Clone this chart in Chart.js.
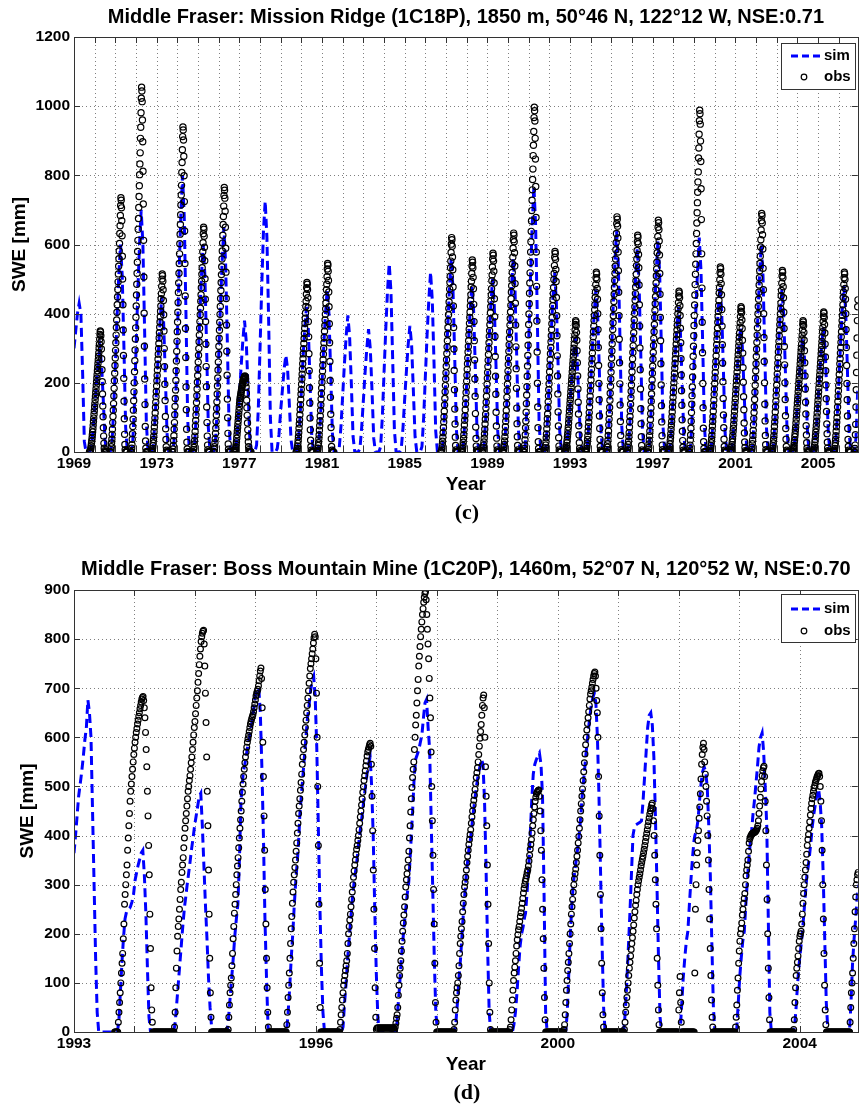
<!DOCTYPE html>
<html>
<head>
<meta charset="utf-8">
<script src="https://cdn.jsdelivr.net/npm/chart.js@4.4.0/dist/chart.umd.min.js"></script>
<style>
  body { margin: 0; background: #fff; width: 863px; height: 1107px; position: relative; overflow: hidden; }
  canvas { position: absolute; left: 0; }
  .tag { position: absolute; left: 0; width: 934px; text-align: center; font: bold 22px "Liberation Serif", "Times New Roman", serif; line-height: 22px; }
</style>
</head>
<body>
<canvas id="mission" width="863" height="500" style="top:0"></canvas>
<div class="tag" style="top:501px">(c)</div>
<canvas id="boss" width="863" height="530" style="top:550px"></canvas>
<div class="tag" style="top:1081px">(d)</div>

<script>
// ---- panel (c): Mission Ridge 1C18P ----
// simulated SWE, one row per calendar year from 1969, values on the 1st of each month (mm)
const missionSim = [
  [300,350,400,430,400,230,30,0,0,0,10,60],
  [125,195,255,300,255,150,35,0,0,0,20,120],
  [250,390,510,600,510,300,70,0,0,0,20,120],
  [295,455,595,700,600,350,85,0,0,0,15,90],
  [190,290,380,450,380,225,55,0,0,0,25,135],
  [335,520,680,800,680,400,95,0,0,0,20,110],
  [250,390,510,600,510,300,70,0,0,0,20,110],
  [275,420,550,650,550,325,80,0,0,0,10,65],
  [160,245,320,380,320,190,45,0,0,0,20,125],
  [300,480,640,725,620,380,100,0,0,0,10,50],
  [120,180,240,280,240,140,35,0,0,0,15,80],
  [175,275,360,420,360,210,50,0,0,0,15,90],
  [200,305,400,470,400,235,55,0,0,0,12,75],
  [165,255,335,395,335,200,45,0,0,0,10,70],
  [150,230,300,355,300,180,40,0,0,0,15,100],
  [230,355,465,545,465,270,65,0,0,0,10,70],
  [155,235,310,365,310,180,45,0,0,0,15,100],
  [220,340,440,520,440,260,60,0,0,0,15,100],
  [235,365,475,560,475,280,65,0,0,0,15,95],
  [200,310,410,480,410,240,55,0,0,0,15,95],
  [210,325,425,500,425,250,60,0,0,0,15,105],
  [235,365,475,560,475,280,65,0,0,0,20,140],
  [325,500,655,770,655,385,90,0,0,0,15,100],
  [220,340,440,520,440,260,60,0,0,0,10,65],
  [140,215,280,330,280,165,40,0,0,0,15,90],
  [200,305,400,470,400,235,55,0,0,0,20,120],
  [270,415,545,640,545,320,75,0,0,0,18,110],
  [250,385,500,590,500,295,70,0,0,0,18,115],
  [255,395,520,610,520,305,70,0,0,0,12,80],
  [175,275,355,420,355,210,50,0,0,0,18,115],
  [260,405,525,620,525,310,75,0,0,0,15,90],
  [200,310,410,480,410,240,55,0,0,0,10,70],
  [150,235,305,360,305,180,45,0,0,0,18,110],
  [250,390,510,600,510,300,70,0,0,0,15,90],
  [200,305,400,470,400,235,55,0,0,0,10,65],
  [140,215,280,330,280,165,40,0,0,0,10,70],
  [150,235,305,360,305,180,45,0,0,0,15,90],
  [200,310,410,480,410,240,55,0,0,0,40,180]
];
// observed SWE, one row per snow season (water year), every 5 days from 1 October
const missionObsYears = [1970,1971,1972,1973,1974,1975,1976,1977,1980,1981,1987,1988,1989,1990,1991,1992,1993,1994,1995,1996,1997,1998,1999,2000,2001,2002,2003,2004,2005,2006,2007];
const missionObs = [
  [0,0,0,4,7,12,18,25,32,40,49,58,67,77,88,98,109,119,130,140,151,161,172,182,193,203,214,224,235,245,256,266,277,287,301,312,326,340,350,347,336,319,298,270,238,203,168,133,102,70,46,25,11,4,0,0,0,0,0,0],
  [0,0,0,7,15,26,37,51,66,85,103,121,140,162,184,206,228,250,272,294,316,338,360,382,404,426,448,470,492,515,537,559,581,603,632,654,684,713,735,728,706,669,625,566,500,426,353,279,213,147,96,51,22,7,0,0,0,0,0,0],
  [0,0,0,11,21,37,53,74,95,121,148,174,200,232,264,295,327,359,390,422,454,485,517,549,580,612,644,675,707,739,770,802,833,865,907,939,981,1023,1055,1044,1013,960,897,812,717,612,506,401,306,211,137,74,32,11,0,0,0,0,0,0],
  [0,0,0,5,10,18,26,36,46,59,72,85,98,113,129,144,160,175,191,206,221,237,252,268,283,299,314,330,345,361,376,391,407,422,443,458,479,500,515,510,494,469,438,397,350,299,247,196,149,103,67,36,15,5,0,0,0,0,0,0],
  [0,0,0,9,19,33,47,66,85,108,132,155,179,207,235,263,291,320,348,376,404,432,461,489,517,545,573,602,630,658,686,714,743,771,808,837,874,912,940,931,902,855,799,724,639,545,451,357,273,188,122,66,28,9,0,0,0,0,0,0],
  [0,0,0,7,13,23,33,46,59,75,91,107,124,143,163,182,202,221,241,260,280,299,319,338,358,377,397,416,436,455,475,494,514,533,559,579,605,631,650,644,624,592,553,501,442,377,312,247,189,130,85,46,20,7,0,0,0,0,0,0],
  [0,0,0,8,15,27,38,54,69,88,107,126,145,168,191,214,237,260,283,306,329,352,375,398,421,444,467,490,513,536,558,581,604,627,658,681,711,742,765,757,734,696,650,589,520,444,367,291,222,153,99,54,23,8,0,0,0,0,0,0],
  [0,0,0,3,6,10,15,22,30,40,50,60,70,80,90,100,110,120,130,140,148,155,160,165,170,175,180,185,190,195,200,205,208,210,212,214,216,218,220,218,212,200,188,170,150,128,106,84,64,44,29,15,7,2,0,0,0,0,0,0],
  [0,0,0,5,10,17,25,34,44,56,69,81,93,108,123,137,152,167,181,196,211,225,240,255,270,284,299,314,328,343,358,372,387,402,421,436,456,475,490,485,470,446,417,377,333,284,235,186,142,98,64,34,15,5,0,0,0,0,0,0],
  [0,0,0,5,11,19,27,38,49,63,76,90,104,120,136,153,169,185,202,218,234,251,267,283,300,316,332,349,365,382,398,414,431,447,469,485,507,529,545,540,523,496,463,420,371,316,262,207,158,109,71,38,16,5,0,0,0,0,0,0],
  [0,0,0,6,12,22,31,43,56,71,87,102,118,136,155,174,192,211,229,248,267,285,304,322,341,360,378,397,415,434,453,471,490,508,533,552,577,601,620,614,595,564,527,477,422,360,298,236,180,124,81,43,19,6,0,0,0,0,0,0],
  [0,0,0,6,11,19,28,39,50,64,78,92,105,122,139,155,172,189,205,222,239,255,272,289,305,322,339,355,372,389,405,422,438,455,477,494,516,538,555,549,533,505,472,427,377,322,266,211,161,111,72,39,17,6,0,0,0,0,0,0],
  [0,0,0,6,12,20,29,40,52,66,81,95,109,127,144,161,178,196,213,230,247,265,282,299,316,334,351,368,385,403,420,437,454,472,495,512,535,558,575,569,552,523,489,443,391,334,276,219,167,115,75,40,17,6,0,0,0,0,0,0],
  [0,0,0,6,13,22,32,44,57,73,89,104,120,139,158,177,196,215,234,253,272,291,310,329,348,367,386,405,424,443,462,481,500,519,544,563,589,614,633,627,608,576,538,487,430,367,304,241,184,127,82,44,19,6,0,0,0,0,0,0],
  [0,0,0,10,20,35,50,70,90,115,140,165,189,219,249,279,309,339,369,399,429,459,489,518,548,578,608,638,668,698,728,758,788,818,857,887,927,967,997,987,957,907,847,768,678,578,479,379,289,199,130,70,30,10,0,0,0,0,0,0],
  [0,0,0,6,12,20,29,41,52,67,81,96,110,128,145,162,180,197,215,232,249,267,284,302,319,336,354,371,389,406,423,441,458,476,499,516,539,563,580,574,557,528,493,447,394,336,278,220,168,116,75,41,17,6,0,0,0,0,0,0],
  [0,0,0,4,8,13,19,27,34,44,53,63,72,84,95,106,118,129,141,152,163,175,186,198,209,220,232,243,255,266,277,289,300,312,327,338,353,369,380,376,365,346,323,293,258,220,182,144,110,76,49,27,11,4,0,0,0,0,0,0],
  [0,0,0,5,10,18,26,36,47,60,73,86,99,114,130,146,161,177,192,208,224,239,255,270,286,302,317,333,348,364,380,395,411,426,447,463,484,504,520,515,499,473,442,400,354,302,250,198,151,104,68,36,16,5,0,0,0,0,0,0],
  [0,0,0,7,14,24,34,48,61,78,95,112,129,150,170,190,211,231,252,272,292,313,333,354,374,394,415,435,456,476,496,517,537,558,585,605,632,660,680,673,653,619,578,524,462,394,326,258,197,136,88,48,20,7,0,0,0,0,0,0],
  [0,0,0,6,13,22,31,44,56,72,88,103,119,138,157,176,194,213,232,251,270,288,307,326,345,364,382,401,420,439,458,477,495,514,539,558,583,608,627,621,602,571,533,483,426,364,301,238,182,125,82,44,19,6,0,0,0,0,0,0],
  [0,0,0,7,13,23,34,47,60,77,94,111,127,147,168,188,208,228,248,268,288,308,328,348,369,389,409,429,449,469,489,509,529,549,576,596,623,650,670,663,643,610,570,516,456,389,322,255,194,134,87,47,20,7,0,0,0,0,0,0],
  [0,0,0,5,9,16,23,33,42,53,65,77,88,102,116,130,144,158,172,186,200,214,228,242,256,270,284,298,312,326,339,353,367,381,400,414,432,451,465,460,446,423,395,358,316,270,223,177,135,93,60,33,14,5,0,0,0,0,0,0],
  [0,0,0,10,20,35,49,69,89,114,138,163,188,217,247,277,306,336,366,395,425,454,484,514,543,573,603,632,662,692,721,751,781,810,850,879,919,958,988,978,948,899,840,761,672,573,474,375,287,198,128,69,30,10,0,0,0,0,0,0],
  [0,0,0,5,11,19,27,37,48,62,75,88,102,118,134,150,166,182,198,214,230,246,262,278,294,310,326,342,358,375,391,407,423,439,460,476,498,519,535,530,514,487,455,412,364,310,257,203,155,107,70,37,16,5,0,0,0,0,0,0],
  [0,0,0,4,8,15,21,29,38,48,59,69,80,92,105,118,130,143,155,168,181,193,206,218,231,244,256,269,281,294,307,319,332,344,361,374,391,407,420,416,403,382,357,323,286,244,202,160,122,84,55,29,13,4,0,0,0,0,0,0],
  [0,0,0,7,14,24,35,48,62,79,97,114,131,152,173,193,214,235,255,276,297,317,338,359,380,400,421,442,462,483,504,524,545,566,593,614,642,669,690,683,662,628,587,531,469,400,331,262,200,138,90,48,21,7,0,0,0,0,0,0],
  [0,0,0,5,11,18,26,37,47,60,74,87,100,116,131,147,163,179,194,210,226,242,257,273,289,305,320,336,352,368,383,399,415,431,452,467,488,509,525,520,504,478,446,404,357,305,252,200,152,105,68,37,16,5,0,0,0,0,0,0],
  [0,0,0,4,8,13,19,27,34,44,53,63,72,84,95,106,118,129,141,152,163,175,186,198,209,220,232,243,255,266,277,289,300,312,327,338,353,369,380,376,365,346,323,293,258,220,182,144,110,76,49,27,11,4,0,0,0,0,0,0],
  [0,0,0,4,8,14,20,28,36,47,57,67,77,89,101,113,126,138,150,162,174,186,198,211,223,235,247,259,271,284,296,308,320,332,348,360,377,393,405,401,389,369,344,312,275,235,194,154,117,81,53,28,12,4,0,0,0,0,0,0],
  [0,0,0,5,10,18,26,36,47,60,73,86,99,114,130,146,161,177,192,208,224,239,255,270,286,302,317,333,348,364,380,395,411,426,447,463,484,504,520,515,499,473,442,400,354,302,250,198,151,104,68,36,16,5,0,0,0,0,0,0],
  [0,0,10,20,50,80,130,180,230,280,330,380,420,440,450]
];
const missionLabelYears = [1969,1973,1977,1981,1985,1989,1993,1997,2001,2005];

// ---- panel (d): Boss Mountain Mine 1C20P ----
// simulated SWE, one row per calendar year from 1993, every 10 days from 1 January (mm)
const bossSim = [
  [364,400,440,480,505,530,560,594,620,676,650,600,450,300,150,40,0,0,0,0,0,0,0,0,0,0,0,0,0,20,80,140,190,230,245,250,252],
  [255,265,280,309,325,340,352,365,370,320,240,130,30,0,0,0,0,0,0,0,0,0,0,0,0,0,0,0,0,20,60,100,140,180,220,255,280],
  [295,320,345,372,395,420,440,460,480,486,420,340,260,190,110,50,10,0,0,0,0,0,0,0,0,0,0,30,70,110,150,195,230,260,350,470,510],
  [530,545,565,585,601,620,640,665,690,698,700,650,540,400,230,110,10,0,0,0,0,0,0,0,0,0,0,0,0,40,90,150,200,260,310,350,400],
  [440,480,520,560,600,640,665,695,715,724,680,580,420,260,130,40,0,0,0,0,0,0,0,0,0,0,0,0,10,60,100,150,190,230,270,300,325],
  [335,365,395,420,445,475,500,525,545,560,500,400,250,120,30,0,0,0,0,0,0,0,0,0,0,0,0,50,90,140,180,215,248,280,305,360,420],
  [450,520,556,565,575,590,605,640,670,677,620,575,430,290,150,39,5,0,0,0,0,0,0,0,0,0,0,0,20,60,110,150,200,250,290,330,360],
  [375,395,425,455,480,505,525,540,555,545,470,330,170,40,0,0,0,0,0,0,0,0,0,0,0,0,0,0,0,15,40,80,130,175,200,215,235],
  [242,285,330,400,470,525,545,555,562,568,545,480,280,40,0,0,0,0,0,0,0,0,0,0,0,0,0,40,120,200,260,305,330,355,380,410,450],
  [475,510,545,580,610,640,665,680,690,670,600,480,330,180,50,0,0,0,0,0,0,0,0,0,0,0,0,0,40,100,170,240,320,400,418,422,424],
  [425,427,430,470,520,570,620,645,650,625,560,440,300,150,30,0,0,0,0,0,0,0,0,0,0,0,0,0,55,110,150,185,205,260,310,355,390],
  [400,410,430,470,505,530,540,530,500,420,320,180,50,0,0,0,0,0,0,0,0,0,0,0,0,0,0,0,55,110,150,185,205,260,310,355,390],
  [400,440,470,505,540,580,600,609,570,500,420,230,40,0,0,0,0,0,0,0,0,0,0,0,0,0,0,0,10,50,100,140,170,200,240,280,320],
  [330,355,385,420,445,465,485,495,470,420,320,190,60,5,0,0,0,0,0,0,0,0,0,0,0,0,0,0,60,140,190,230,276,300]
];
// observed SWE, one row per season, every 4 days from the listed start date (decimal year)
const bossObsStart = [1993.72,1994.77,1995.71,1996.76,1997.70,1998.67,1999.70,2000.70,2001.67,2002.73,2003.78,2004.71,2005.74,2006.74];
const bossObs = [
  [0,0,0,0,0,0,20,40,60,80,100,120,140,160,190,220,260,280,300,320,340,370,395,420,445,470,
   490,505,520,535,550,565,578,590,600,610,618,627,635,643,650,658,665,672,678,681,
   683,675,660,640,610,575,540,490,440,380,320,240,170,90,45,20,
   0,0,0,0,0,0,0,0,0,0, 0,0,0,0,0,0,0,0,0,0, 0,0,0,0,0,0,0,0,0,0, 0,0,0,0],
  [0,10,40,90,130,165,195,215,230,250,270,290,305,325,340,355,375,395,415,430,
   445,460,475,490,500,512,522,535,548,560,575,590,605,620,632,648,665,680,695,712,
   730,748,765,780,795,805,812,816,818,790,745,690,630,560,490,420,330,240,150,80,30,0,
   0,0,0,0,0,0,0,0,0,0, 0,0,0,0,0,0,0,0,0,0, 0,0,0,0],
  [0,0,5,30,55,80,95,110,135,160,190,215,242,260,280,300,320,338,355,375,
   395,415,432,450,470,488,505,520,535,548,560,570,580,590,597,604,612,620,627,633,
   638,642,646,652,660,668,676,684,690,694,698,705,715,725,735,741,720,660,590,520,
   440,370,290,220,150,90,40,10,0,
   0,0,0,0,0,0,0,0,0,0, 0,0,0,0,0,0,0,0,0,0, 0,0,0,0,0,0,0],
  [0,15,40,70,95,120,150,180,210,235,262,285,305,320,335,350,368,385,405,425,
   445,460,475,492,508,525,545,560,575,590,605,620,635,650,665,680,695,710,725,740,
   750,760,770,780,792,803,810,805,760,690,600,500,380,260,140,50,0,
   0,0,0,0,0,0,0,0,0,0, 0,0,0,0,0,0,0,0,0,0, 0,0,0,0,0,0,0,0,0],
  [0,5,20,35,50,65,80,95,105,115,125,135,145,160,180,200,215,228,240,255,
   270,285,300,315,328,340,350,362,372,380,390,400,412,425,438,450,462,475,488,500,
   512,522,532,542,552,562,570,575,580,585,588,582,545,480,410,330,250,170,90,30,5,
   8,8,8,8,8,8,8,8,8,8, 8,8,8,8,8,8,8,8,8,8, 8,8,8,8,8,8,8,8],
  [0,5,10,18,28,35,50,75,95,115,130,145,165,185,205,222,238,255,275,295,
   310,322,335,350,368,395,420,448,475,498,518,535,550,575,600,625,645,670,695,718,
   745,765,785,805,820,835,850,862,875,885,893,897,880,850,820,790,760,720,680,640,
   570,500,430,360,290,220,140,60,20,0,
   0,0,0,0,0,0,0,0,0,0, 0,0,0,0,0,0,0,0,0,0, 0,0,0,0],
  [0,0,0,5,20,45,65,80,90,100,115,135,160,180,195,210,225,245,262,280,
   295,305,315,330,345,358,370,382,392,402,412,425,438,450,462,472,482,494,506,518,
   528,538,550,565,582,598,612,626,645,665,680,686,660,600,540,480,420,340,260,180,
   100,40,5,0,
   0,0,0,0,0,0,0,0,0,0, 0,0,0,0,0,0,0,0,0,0, 0,0,0,0,0,0,0],
  [0,0,5,10,25,45,65,85,105,120,132,145,160,175,188,198,208,215,225,235,
   243,252,262,272,283,292,300,307,312,318,325,330,338,348,360,372,382,392,405,420,
   432,445,458,470,478,485,488,490,492,493,480,450,410,370,310,250,190,130,70,25,0,
   0,0,0,0,0,0,0,0,0,0, 0,0,0,0,0,0,0,0,0,0, 0,0,0,0,0,0,0,0],
  [0,5,15,35,60,85,105,125,142,160,180,200,220,240,255,270,285,300,312,322,
   332,345,358,370,385,398,415,432,450,465,480,495,512,530,548,566,585,600,615,628,
   640,652,665,678,688,695,702,710,718,725,730,733,725,700,675,650,600,520,440,360,
   280,210,140,80,35,10,0,
   0,0,0,0,0,0,0,0,0,0, 0,0,0,0,0,0,0,0,0,0, 0,0,0,0,0,0,0,0,0,0],
  [0,0,5,20,40,55,70,85,100,115,130,142,155,168,180,192,205,218,232,245,
   258,268,280,290,300,308,315,322,330,338,345,352,358,365,372,380,388,396,404,412,
   420,428,436,444,450,456,462,466,455,430,400,360,310,260,210,150,95,45,15,0,
   0,0,0,0,0,0,0,0,0,0, 0,0,0,0,0,0,0,0,0,0, 0,0,0,0,0,0,0,0,0,0,
   45,80,113,60,20,0],
  [0,0,0,0,0,0,0,0,0,0, 0,0,0,0,0,0,0,0,0,0,
   120,250,300,340,365,390,410,435,458,485,515,545,565,580,588,575,550,525,500,470,
   440,400,350,290,230,170,115,65,30,10,0,
   0,0,0,0,0,0,0,0,0,0, 0,0,0,0,0,0,0,0,0,0, 0,0,0,0,0,0,0,0,0,0, 0,0,0,0],
  [0,10,30,55,85,110,140,165,185,200,210,222,238,250,262,272,282,300,318,330,
   340,350,368,385,393,397,400,402,404,405,405,406,407,408,410,412,415,420,430,445,
   460,478,495,510,522,532,538,541,520,470,410,340,270,200,130,70,25,0,
   0,0,0,0,0,0,0,0,0,0, 0,0,0,0,0,0,0,0,0,0, 0,0,0,0,0,0,0,0,0,0, 0,0,0,0,0,0],
  [0,5,25,60,90,115,130,142,155,170,185,195,200,205,220,240,262,282,300,315,
   330,345,362,380,392,402,415,428,442,455,466,475,482,490,497,502,508,512,516,520,
   523,526,527,520,500,470,430,370,300,230,160,95,45,15,0,
   0,0,0,0,0,0,0,0,0,0, 0,0,0,0,0,0,0,0,0,0, 0,0,0,0,0,0,0,0,0,0, 0,0,0,0,0,0,0],
  [0,20,50,80,100,120,150,180,210,245,275,300,310,320,325]
];
// the original axis carries a tick every ~391 days, only some of them labelled
const bossTickLabels = ['1993','','','','1996','','','','2000','','','','2004'];
const bossTickStep = 1.0714;

const SANS = '"Liberation Sans", Arial, Helvetica, sans-serif';
const DAY = 1 / 365.25;

function rowsToPoints(starts, rows, step) {
  const pts = [];
  rows.forEach((row, k) => row.forEach((v, i) => pts.push({ x: starts[k] + i * step, y: v })));
  return pts;
}

// dotted grid under the data, box and inward tick marks over it (MATLAB look)
const matlabAxes = {
  id: 'matlabAxes',
  beforeDatasetsDraw(chart) {
    const { ctx, chartArea: a, scales: { x, y } } = chart;
    ctx.save();
    ctx.strokeStyle = 'rgba(0,0,0,0.5)';
    ctx.lineWidth = 1;
    ctx.setLineDash([1, 3]);
    ctx.beginPath();
    x.ticks.forEach(t => {
      const px = Math.round(x.getPixelForValue(t.value)) + 0.5;
      if (px > a.left + 2 && px < a.right - 2) { ctx.moveTo(px, a.top); ctx.lineTo(px, a.bottom); }
    });
    y.ticks.forEach(t => {
      const py = Math.round(y.getPixelForValue(t.value)) + 0.5;
      if (py > a.top + 2 && py < a.bottom - 2) { ctx.moveTo(a.left, py); ctx.lineTo(a.right, py); }
    });
    ctx.stroke();
    ctx.restore();
  },
  afterDatasetsDraw(chart) {
    const { ctx, chartArea: a, scales: { x, y } } = chart;
    ctx.save();
    ctx.strokeStyle = '#333';
    ctx.lineWidth = 1;
    ctx.beginPath();
    x.ticks.forEach(t => {
      const px = Math.round(x.getPixelForValue(t.value)) + 0.5;
      ctx.moveTo(px, a.bottom); ctx.lineTo(px, a.bottom - 6);
      ctx.moveTo(px, a.top); ctx.lineTo(px, a.top + 6);
    });
    y.ticks.forEach(t => {
      const py = Math.round(y.getPixelForValue(t.value)) + 0.5;
      ctx.moveTo(a.left, py); ctx.lineTo(a.left + 6, py);
      ctx.moveTo(a.right, py); ctx.lineTo(a.right - 6, py);
    });
    ctx.stroke();
    ctx.strokeRect(Math.round(a.left) + 0.5, Math.round(a.top) + 0.5, Math.round(a.right - a.left), Math.round(a.bottom - a.top));
    ctx.restore();
  }
};

const boxLegend = {
  id: 'boxLegend',
  afterDraw(chart, args, opts) {
    const { ctx, chartArea: a } = chart;
    const x0 = Math.round(a.right) - 77, y0 = Math.round(a.top) + opts.dy;
    ctx.save();
    ctx.fillStyle = '#fff';
    ctx.fillRect(x0, y0, 74, opts.h);
    ctx.strokeStyle = '#333';
    ctx.lineWidth = 1;
    ctx.strokeRect(x0 + 0.5, y0 + 0.5, 74, opts.h);
    ctx.strokeStyle = '#0000ff';
    ctx.lineWidth = 3;
    ctx.setLineDash([7, 4]);
    ctx.beginPath();
    ctx.moveTo(x0 + 10, y0 + opts.simY);
    ctx.lineTo(x0 + 39, y0 + opts.simY);
    ctx.stroke();
    ctx.setLineDash([]);
    ctx.strokeStyle = '#000';
    ctx.lineWidth = 1.2;
    ctx.beginPath();
    ctx.arc(x0 + 23, y0 + opts.obsY, 2.8, 0, Math.PI * 2);
    ctx.stroke();
    ctx.fillStyle = '#000';
    ctx.font = 'bold 15px ' + SANS;
    ctx.textAlign = 'left';
    ctx.textBaseline = 'middle';
    ctx.fillText('sim', x0 + 43, y0 + opts.simY);
    ctx.fillText('obs', x0 + 43, y0 + opts.obsY);
    ctx.restore();
  }
};

function buildPanel(id, p) {
  const tickFont = { family: SANS, size: 15.5, weight: 'bold' };
  const labelFont = { family: SANS, size: 19, weight: 'bold' };
  return new Chart(document.getElementById(id), {
    type: 'line',
    data: {
      datasets: [
        {
          label: 'obs', data: p.obs, showLine: false, order: 0,
          pointStyle: 'circle', pointRadius: p.obsRadius, pointBorderWidth: 1.2,
          pointBorderColor: '#000', pointBackgroundColor: 'rgba(0,0,0,0)'
        },
        {
          label: 'sim', data: p.sim, order: 1, fill: false, tension: 0,
          borderColor: '#0000ff', borderWidth: 3, borderDash: [9, 5], pointRadius: 0
        }
      ]
    },
    options: {
      responsive: false,
      animation: false,
      events: [],
      layout: { padding: { left: 0, right: 3, top: 0, bottom: 0 } },
      plugins: {
        legend: { display: false },
        tooltip: { enabled: false },
        title: {
          display: true, text: p.title, fullSize: false, color: '#000',
          font: { family: SANS, size: 20, weight: 'bold' }, padding: p.titlePad
        },
        boxLegend: p.legend
      },
      scales: {
        x: {
          type: 'linear', min: p.xMin, max: p.xMax,
          grid: { display: false, drawTicks: false },
          border: { display: false },
          afterBuildTicks: s => { s.ticks = p.xTicks.map(v => ({ value: v })); },
          afterFit: s => { s.height = 48; },
          ticks: {
            autoSkip: false, maxRotation: 0, padding: 2, color: '#000', font: tickFont,
            callback: (v, i) => p.xLabels[i]
          },
          title: { display: true, text: 'Year', color: '#000', font: labelFont, padding: { top: 0, bottom: 4 } }
        },
        y: {
          type: 'linear', min: 0, max: p.yMax,
          grid: { display: false, drawTicks: false },
          border: { display: false },
          afterFit: s => { s.width = 74; },
          ticks: { stepSize: p.yStep, padding: 4, color: '#000', font: tickFont, callback: v => String(v) },
          title: { display: true, text: 'SWE [mm]', color: '#000', font: labelFont, padding: { top: p.yTitlePad, bottom: 0 } }
        }
      }
    },
    plugins: [matlabAxes, boxLegend]
  });
}

// panel (c)
const missionTicks = [];
for (let yr = 1969; yr <= 2006; yr++) missionTicks.push(yr);
buildPanel('mission', {
  title: 'Middle Fraser: Mission Ridge (1C18P), 1850 m, 50\u00B046 N, 122\u00B012 W, NSE:0.71',
  titlePad: { top: 5.5, bottom: 7.5 },
  sim: rowsToPoints(missionSim.map((r, k) => 1969 + k), missionSim, 1 / 12),
  obs: rowsToPoints(missionObsYears.map(y => y - 0.25), missionObs, 5 * DAY),
  obsRadius: 3.1,
  xMin: 1969, xMax: 2006.92,
  xTicks: missionTicks,
  xLabels: missionTicks.map(yr => missionLabelYears.includes(yr) ? String(yr) : ''),
  yMax: 1200, yStep: 200, yTitlePad: 8,
  legend: { dy: 6, h: 46, simY: 13, obsY: 34 }
});

// panel (d)
const bossTicks = bossTickLabels.map((_, i) => 1993 + i * bossTickStep);
buildPanel('boss', {
  title: 'Middle Fraser: Boss Mountain Mine (1C20P), 1460m, 52\u00B007 N, 120\u00B052 W, NSE:0.70',
  titlePad: { top: 7, bottom: 9 },
  sim: rowsToPoints(bossSim.map((r, k) => 1993 + k), bossSim, 10 * DAY),
  obs: rowsToPoints(bossObsStart, bossObs, 4 * DAY),
  obsRadius: 2.9,
  xMin: 1993, xMax: 2006.887,
  xTicks: bossTicks,
  xLabels: bossTickLabels,
  yMax: 900, yStep: 100, yTitlePad: 16,
  legend: { dy: 4, h: 48, simY: 15, obsY: 37 }
});
</script>
</body>
</html>
